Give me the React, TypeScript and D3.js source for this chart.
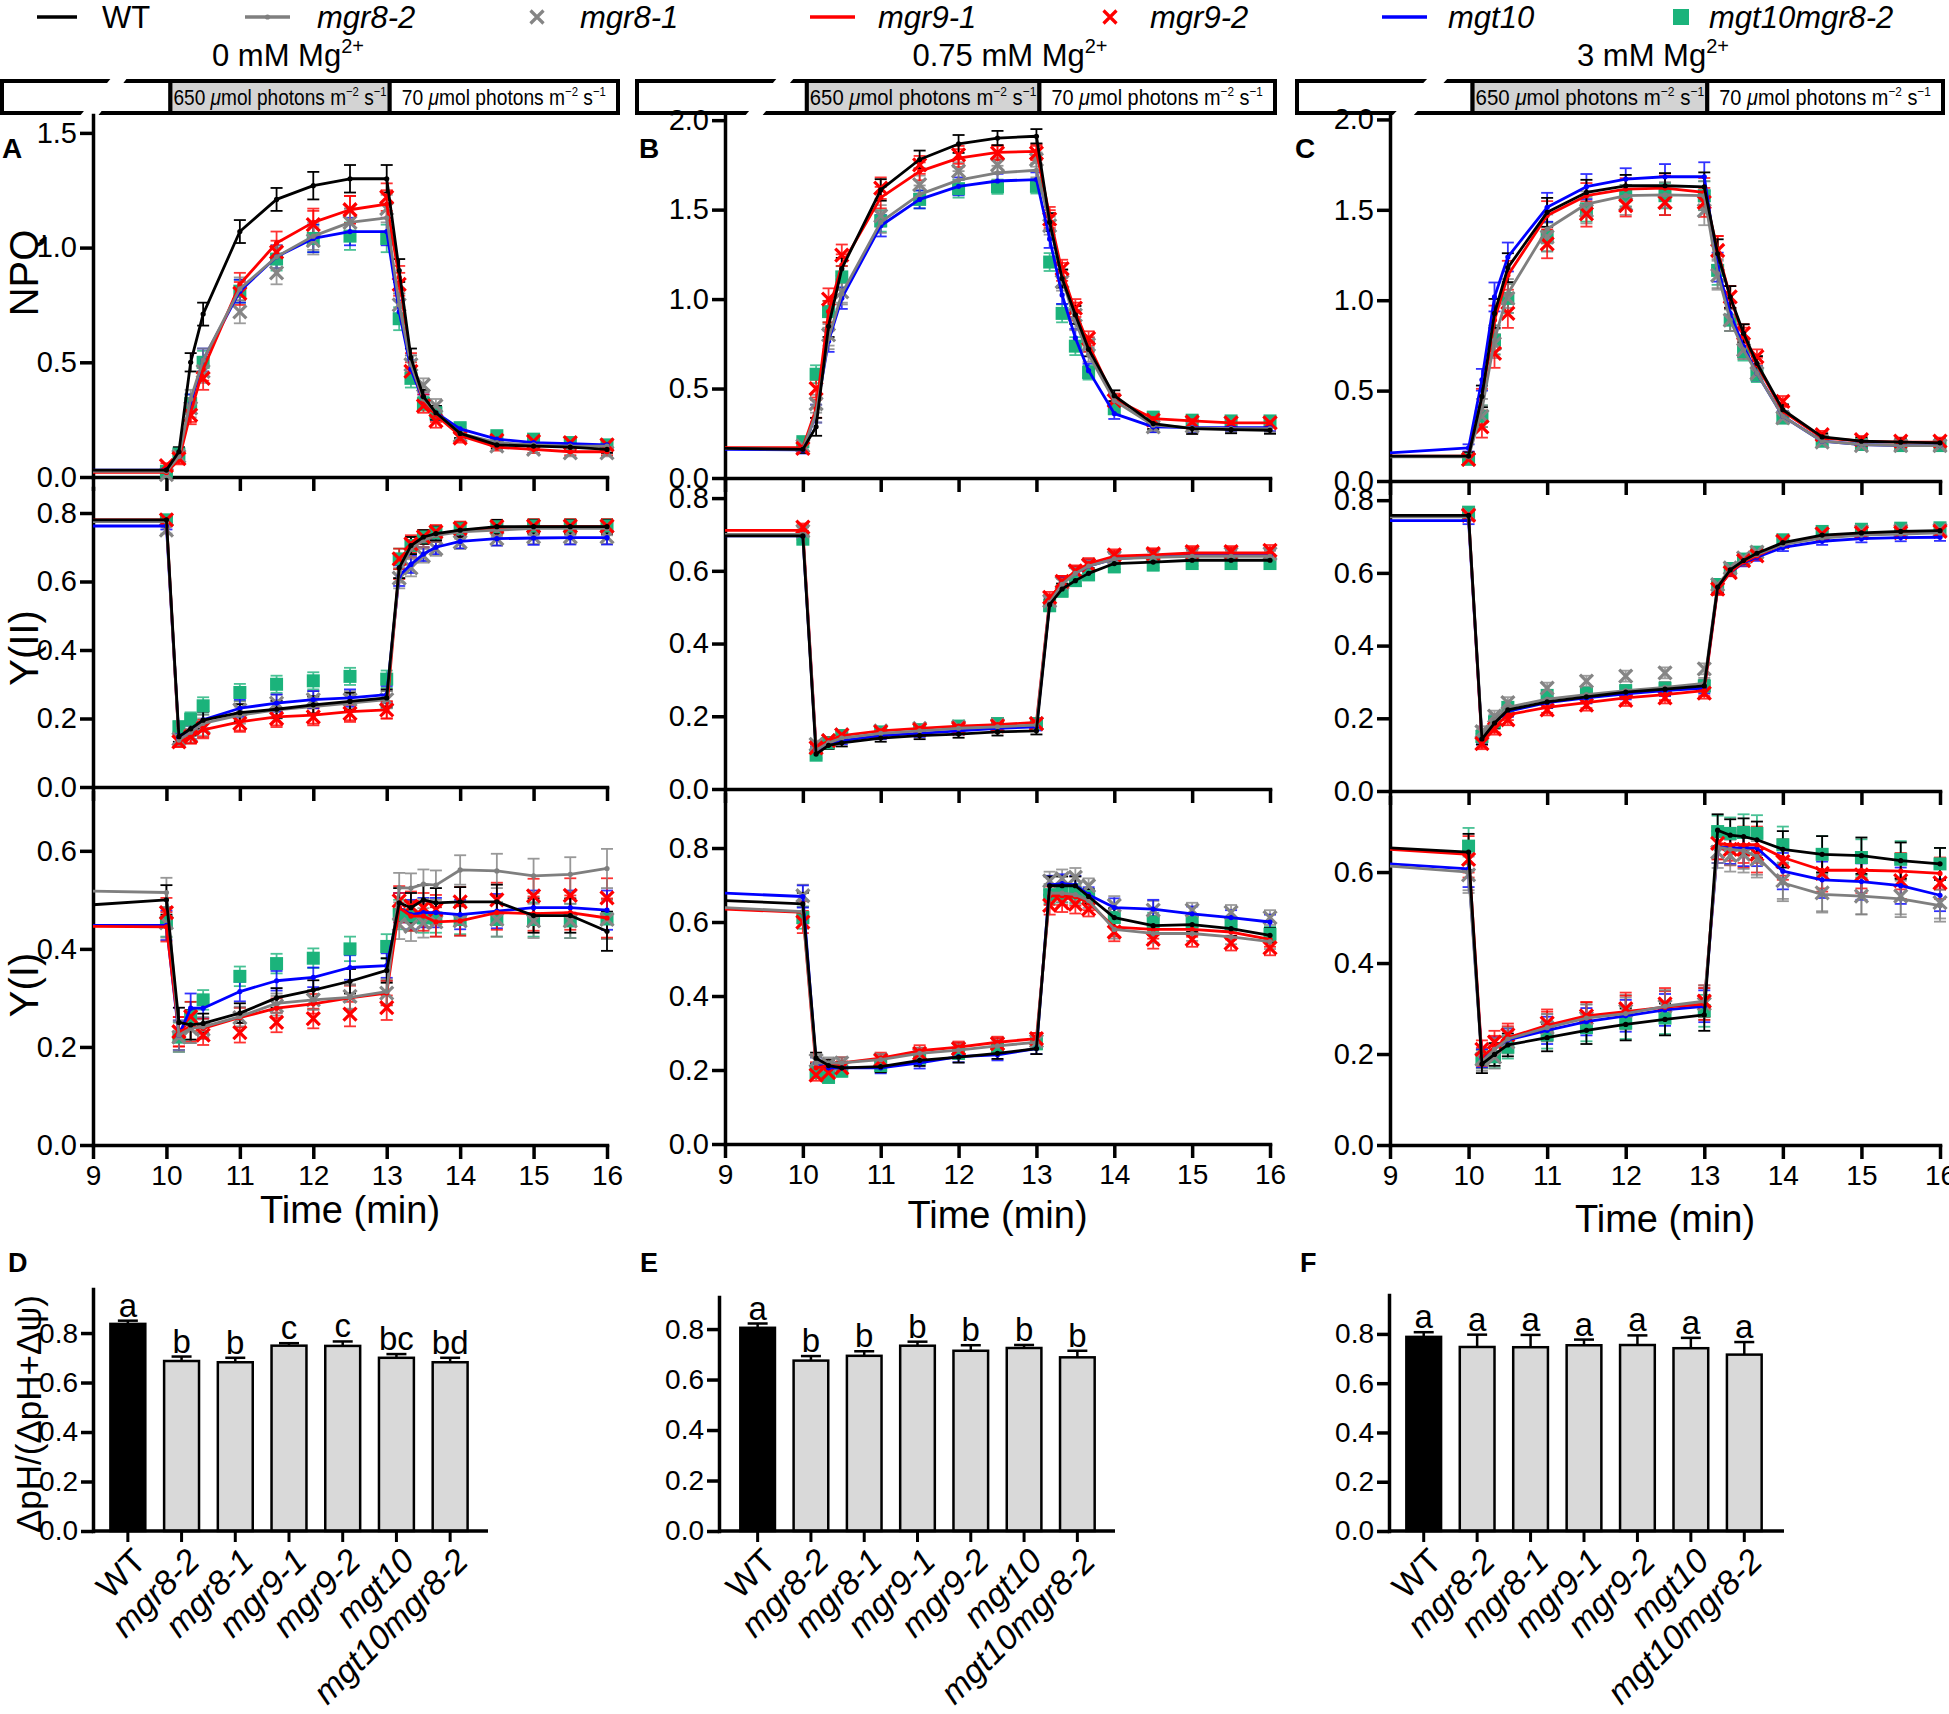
import React, { useEffect, useRef } from 'react';
import * as d3 from 'd3';

// sampling times (min); 9 is only the start of the dark baseline line
const TIMES = [9, 10, 10.17, 10.33, 10.5, 11, 11.5, 12, 12.5, 13, 13.17, 13.33, 13.5, 13.67, 14, 14.5, 15, 15.5, 16];
const TIME_TICKS = [9, 10, 11, 12, 13, 14, 15, 16];
const GENOTYPES = ['WT', 'mgr8-2', 'mgr8-1', 'mgr9-1', 'mgr9-2', 'mgt10', 'mgt10mgr8-2'];

// NPQ, order = GENOTYPES
const NPQ_0 = [
  [0.03, 0.03, 0.11, 0.5, 0.71, 1.07, 1.21, 1.27, 1.3, 1.3, 0.9, 0.52, 0.35, 0.28, 0.19, 0.14, 0.135, 0.13, 0.12],
  [0.025, 0.025, 0.09, 0.34, 0.51, 0.82, 0.96, 1.05, 1.11, 1.13, 0.75, 0.49, 0.34, 0.28, 0.19, 0.15, 0.14, 0.135, 0.135],
  [null, 0.01, 0.09, 0.3, 0.46, 0.72, 0.89, 1.03, 1.11, 1.17, 0.75, 0.49, 0.4, 0.31, 0.18, 0.135, 0.12, 0.105, 0.105],
  [0.02, 0.02, 0.075, 0.28, 0.47, 0.84, 1.02, 1.11, 1.165, 1.19, 0.87, 0.5, 0.33, 0.27, 0.18, 0.13, 0.12, 0.11, 0.11],
  [null, 0.05, 0.08, 0.27, 0.43, 0.8, 0.98, 1.1, 1.165, 1.22, 0.84, 0.46, 0.31, 0.245, 0.17, 0.16, 0.155, 0.15, 0.14],
  [0.03, 0.03, 0.09, 0.32, 0.51, 0.81, 0.96, 1.04, 1.07, 1.07, 0.72, 0.47, 0.33, 0.28, 0.21, 0.165, 0.15, 0.145, 0.14],
  [null, 0.025, 0.1, 0.32, 0.5, 0.81, 0.95, 1.04, 1.05, 1.04, 0.69, 0.43, 0.32, 0.28, 0.215, 0.18, 0.165, 0.15, 0.14],
];
const NPQ_075 = [
  [0.166, 0.16, 0.286, 0.848, 1.17, 1.61, 1.78, 1.867, 1.9, 1.91, 1.43, 1.115, 0.912, 0.72, 0.46, 0.304, 0.276, 0.27, 0.267],
  [0.166, 0.16, 0.36, 0.78, 1.03, 1.43, 1.585, 1.665, 1.705, 1.72, 1.43, 1.115, 0.876, 0.69, 0.433, 0.295, 0.28, 0.276, 0.276],
  [null, 0.18, 0.415, 0.8, 1.04, 1.465, 1.64, 1.715, 1.75, 1.78, 1.41, 1.097, 0.91, 0.746, 0.433, 0.286, 0.29, 0.31, 0.31],
  [0.17, 0.17, 0.387, 0.93, 1.19, 1.567, 1.714, 1.788, 1.82, 1.825, 1.465, 1.152, 0.93, 0.746, 0.442, 0.332, 0.319, 0.308, 0.308],
  [null, 0.166, 0.5, 1.0, 1.245, 1.62, 1.75, 1.806, 1.816, 1.816, 1.447, 1.17, 0.95, 0.78, 0.433, 0.323, 0.313, 0.308, 0.308],
  [0.16, 0.157, 0.36, 0.765, 1.005, 1.41, 1.557, 1.63, 1.66, 1.668, 1.336, 1.023, 0.783, 0.6, 0.36, 0.286, 0.282, 0.282, 0.282],
  [null, 0.203, 0.58, 0.93, 1.124, 1.437, 1.557, 1.617, 1.628, 1.63, 1.207, 0.92, 0.737, 0.59, 0.387, 0.34, 0.323, 0.319, 0.319],
];
const NPQ_3 = [
  [0.138, 0.138, 0.468, 0.927, 1.18, 1.486, 1.596, 1.633, 1.633, 1.627, 1.257, 1.018, 0.817, 0.651, 0.394, 0.244, 0.22, 0.215, 0.211],
  [0.134, 0.134, 0.394, 0.78, 1.037, 1.394, 1.532, 1.578, 1.583, 1.578, 1.147, 0.89, 0.725, 0.596, 0.358, 0.22, 0.202, 0.196, 0.196],
  [null, 0.12, 0.358, 0.76, 1.01, 1.35, 1.495, 1.532, 1.541, 1.495, 1.138, 0.89, 0.725, 0.596, 0.349, 0.215, 0.196, 0.196, 0.196],
  [0.138, 0.138, 0.45, 0.89, 1.138, 1.468, 1.578, 1.615, 1.62, 1.596, 1.275, 1.018, 0.798, 0.642, 0.385, 0.239, 0.22, 0.215, 0.215],
  [null, 0.12, 0.3, 0.706, 0.927, 1.312, 1.477, 1.523, 1.541, 1.541, 1.275, 1.018, 0.817, 0.688, 0.44, 0.257, 0.229, 0.22, 0.22],
  [0.156, 0.183, 0.56, 1.018, 1.239, 1.514, 1.628, 1.67, 1.683, 1.683, 1.183, 0.927, 0.743, 0.596, 0.358, 0.22, 0.202, 0.196, 0.196],
  [null, 0.12, 0.358, 0.78, 1.01, 1.35, 1.505, 1.578, 1.578, 1.578, 1.165, 0.89, 0.716, 0.587, 0.349, 0.22, 0.202, 0.196, 0.196],
];

// Y(II)
const YII_0 = [
  [0.78, 0.78, 0.147, 0.17, 0.195, 0.217, 0.227, 0.24, 0.25, 0.26, 0.64, 0.705, 0.73, 0.74, 0.75, 0.76, 0.76, 0.76, 0.76],
  [0.775, 0.775, 0.137, 0.16, 0.186, 0.21, 0.225, 0.235, 0.245, 0.255, 0.627, 0.695, 0.72, 0.735, 0.745, 0.75, 0.755, 0.755, 0.755],
  [null, 0.75, 0.14, 0.15, 0.175, 0.225, 0.245, 0.255, 0.255, 0.255, 0.61, 0.64, 0.675, 0.695, 0.715, 0.725, 0.73, 0.73, 0.73],
  [0.78, 0.78, 0.132, 0.147, 0.167, 0.19, 0.205, 0.21, 0.22, 0.225, 0.637, 0.695, 0.72, 0.735, 0.75, 0.756, 0.76, 0.76, 0.76],
  [null, 0.78, 0.132, 0.147, 0.171, 0.186, 0.2, 0.205, 0.215, 0.225, 0.666, 0.71, 0.73, 0.745, 0.755, 0.76, 0.762, 0.762, 0.762],
  [0.762, 0.762, 0.142, 0.16, 0.196, 0.23, 0.245, 0.255, 0.26, 0.27, 0.617, 0.65, 0.68, 0.7, 0.717, 0.725, 0.727, 0.728, 0.728],
  [null, 0.78, 0.176, 0.198, 0.237, 0.276, 0.3, 0.31, 0.323, 0.315, 0.666, 0.705, 0.73, 0.742, 0.754, 0.76, 0.762, 0.762, 0.762],
];
const YII_075 = [
  [0.696, 0.696, 0.096, 0.12, 0.127, 0.14, 0.147, 0.151, 0.157, 0.16, 0.507, 0.55, 0.573, 0.593, 0.62, 0.624, 0.629, 0.629, 0.629],
  [0.7, 0.7, 0.107, 0.127, 0.14, 0.153, 0.16, 0.167, 0.171, 0.176, 0.513, 0.563, 0.593, 0.613, 0.633, 0.637, 0.64, 0.64, 0.64],
  [null, 0.709, 0.123, 0.133, 0.149, 0.16, 0.167, 0.171, 0.176, 0.18, 0.517, 0.567, 0.597, 0.616, 0.637, 0.643, 0.647, 0.647, 0.647],
  [0.711, 0.711, 0.113, 0.133, 0.147, 0.16, 0.167, 0.173, 0.177, 0.183, 0.52, 0.571, 0.597, 0.62, 0.64, 0.644, 0.649, 0.649, 0.649],
  [null, 0.72, 0.113, 0.133, 0.149, 0.157, 0.163, 0.167, 0.173, 0.18, 0.527, 0.571, 0.6, 0.616, 0.644, 0.647, 0.653, 0.653, 0.656],
  [0.696, 0.696, 0.107, 0.123, 0.133, 0.147, 0.153, 0.16, 0.167, 0.171, 0.513, 0.567, 0.593, 0.613, 0.633, 0.64, 0.643, 0.643, 0.643],
  [null, 0.687, 0.093, 0.127, 0.147, 0.157, 0.163, 0.173, 0.18, 0.18, 0.504, 0.544, 0.573, 0.589, 0.611, 0.616, 0.62, 0.62, 0.62],
];
const YII_3 = [
  [0.758, 0.758, 0.143, 0.187, 0.223, 0.245, 0.259, 0.272, 0.28, 0.289, 0.561, 0.608, 0.634, 0.654, 0.683, 0.704, 0.71, 0.714, 0.716],
  [0.754, 0.754, 0.153, 0.196, 0.23, 0.253, 0.265, 0.276, 0.285, 0.296, 0.568, 0.608, 0.634, 0.651, 0.678, 0.696, 0.704, 0.707, 0.71],
  [null, 0.76, 0.163, 0.206, 0.243, 0.283, 0.302, 0.316, 0.325, 0.336, 0.568, 0.614, 0.641, 0.657, 0.687, 0.707, 0.714, 0.716, 0.718],
  [0.758, 0.758, 0.134, 0.176, 0.21, 0.23, 0.243, 0.256, 0.265, 0.276, 0.555, 0.601, 0.63, 0.647, 0.68, 0.7, 0.707, 0.71, 0.712],
  [null, 0.758, 0.13, 0.17, 0.196, 0.223, 0.236, 0.249, 0.256, 0.269, 0.555, 0.601, 0.634, 0.647, 0.687, 0.707, 0.71, 0.711, 0.714],
  [0.744, 0.744, 0.143, 0.19, 0.219, 0.243, 0.256, 0.267, 0.276, 0.283, 0.559, 0.601, 0.628, 0.643, 0.67, 0.687, 0.694, 0.697, 0.698],
  [null, 0.767, 0.15, 0.19, 0.23, 0.263, 0.269, 0.276, 0.283, 0.289, 0.568, 0.612, 0.638, 0.657, 0.691, 0.714, 0.72, 0.723, 0.724],
];

// Y(I)
const YI_0 = [
  [0.49, 0.5, 0.25, 0.245, 0.248, 0.269, 0.3, 0.316, 0.334, 0.356, 0.494, 0.484, 0.5, 0.494, 0.496, 0.496, 0.468, 0.468, 0.436],
  [0.518, 0.515, 0.224, 0.238, 0.241, 0.262, 0.289, 0.296, 0.301, 0.313, 0.525, 0.524, 0.532, 0.53, 0.561, 0.559, 0.549, 0.552, 0.564],
  [null, 0.453, 0.22, 0.238, 0.236, 0.26, 0.284, 0.296, 0.303, 0.31, 0.45, 0.446, 0.453, 0.455, 0.457, 0.46, 0.457, 0.457, 0.46],
  [0.446, 0.445, 0.231, 0.241, 0.238, 0.26, 0.279, 0.288, 0.3, 0.31, 0.484, 0.467, 0.467, 0.455, 0.457, 0.474, 0.472, 0.474, 0.463],
  [null, 0.474, 0.231, 0.262, 0.224, 0.229, 0.25, 0.258, 0.267, 0.28, 0.498, 0.487, 0.484, 0.48, 0.496, 0.5, 0.508, 0.509, 0.504],
  [0.448, 0.448, 0.224, 0.279, 0.279, 0.313, 0.335, 0.342, 0.362, 0.366, 0.484, 0.47, 0.474, 0.474, 0.47, 0.477, 0.484, 0.484, 0.479],
  [null, 0.455, 0.22, 0.262, 0.296, 0.344, 0.37, 0.381, 0.4, 0.405, 0.47, 0.467, 0.463, 0.463, 0.46, 0.46, 0.46, 0.457, 0.461],
];
const YI_075 = [
  [0.658, 0.649, 0.232, 0.212, 0.206, 0.209, 0.226, 0.235, 0.245, 0.258, 0.698, 0.698, 0.698, 0.669, 0.612, 0.59, 0.593, 0.582, 0.564],
  [0.639, 0.628, 0.219, 0.219, 0.219, 0.228, 0.245, 0.254, 0.265, 0.275, 0.678, 0.678, 0.674, 0.658, 0.58, 0.569, 0.569, 0.56, 0.547],
  [null, 0.671, 0.226, 0.215, 0.219, 0.228, 0.241, 0.258, 0.271, 0.278, 0.711, 0.717, 0.721, 0.698, 0.645, 0.632, 0.632, 0.626, 0.612],
  [0.635, 0.626, 0.206, 0.212, 0.219, 0.232, 0.252, 0.262, 0.275, 0.285, 0.671, 0.671, 0.669, 0.652, 0.586, 0.58, 0.58, 0.573, 0.553],
  [null, 0.6, 0.186, 0.193, 0.206, 0.226, 0.245, 0.258, 0.271, 0.285, 0.645, 0.652, 0.648, 0.635, 0.573, 0.553, 0.553, 0.543, 0.53],
  [0.678, 0.669, 0.219, 0.206, 0.206, 0.206, 0.219, 0.236, 0.241, 0.258, 0.7, 0.704, 0.7, 0.674, 0.639, 0.635, 0.622, 0.612, 0.6],
  [null, 0.612, 0.193, 0.18, 0.197, 0.212, 0.232, 0.245, 0.258, 0.271, 0.674, 0.678, 0.678, 0.669, 0.612, 0.6, 0.6, 0.593, 0.567],
];
const YI_3 = [
  [0.653, 0.644, 0.178, 0.199, 0.22, 0.236, 0.252, 0.265, 0.276, 0.286, 0.692, 0.681, 0.678, 0.671, 0.65, 0.639, 0.636, 0.625, 0.618],
  [0.613, 0.6, 0.183, 0.21, 0.233, 0.258, 0.279, 0.289, 0.305, 0.316, 0.655, 0.65, 0.647, 0.634, 0.576, 0.551, 0.547, 0.541, 0.526],
  [null, 0.594, 0.188, 0.193, 0.226, 0.258, 0.279, 0.295, 0.305, 0.31, 0.644, 0.636, 0.639, 0.628, 0.581, 0.554, 0.547, 0.547, 0.533],
  [0.65, 0.639, 0.194, 0.215, 0.236, 0.263, 0.284, 0.293, 0.303, 0.31, 0.663, 0.66, 0.66, 0.66, 0.632, 0.604, 0.604, 0.602, 0.597],
  [null, 0.628, 0.21, 0.226, 0.242, 0.268, 0.284, 0.3, 0.31, 0.316, 0.663, 0.65, 0.65, 0.639, 0.623, 0.597, 0.594, 0.581, 0.576],
  [0.618, 0.607, 0.191, 0.212, 0.231, 0.252, 0.271, 0.284, 0.297, 0.305, 0.655, 0.653, 0.653, 0.653, 0.602, 0.583, 0.579, 0.57, 0.549],
  [null, 0.657, 0.189, 0.194, 0.215, 0.242, 0.258, 0.268, 0.279, 0.295, 0.689, 0.685, 0.687, 0.685, 0.66, 0.639, 0.632, 0.628, 0.618],
];

// standard errors per time point (estimated, shared by the genotypes of a panel)
const NPQ_0_ERR = [0, 0.01, 0.02, 0.04, 0.05, 0.05, 0.05, 0.06, 0.06, 0.06, 0.05, 0.04, 0.03, 0.03, 0.02, 0.015, 0.015, 0.015, 0.015];
const NPQ_075_ERR = [0, 0.02, 0.05, 0.06, 0.06, 0.06, 0.05, 0.05, 0.04, 0.04, 0.05, 0.05, 0.05, 0.04, 0.03, 0.03, 0.03, 0.02, 0.02];
const NPQ_3_ERR = [0, 0.02, 0.06, 0.08, 0.08, 0.08, 0.07, 0.06, 0.07, 0.08, 0.08, 0.06, 0.05, 0.04, 0.03, 0.02, 0.02, 0.02, 0.02];
const YII_0_ERR = [0, 0.01, 0.015, 0.02, 0.025, 0.025, 0.025, 0.025, 0.025, 0.025, 0.03, 0.025, 0.02, 0.02, 0.02, 0.02, 0.02, 0.02, 0.02];
const YII_075_ERR = [0, 0.01, 0.01, 0.01, 0.01, 0.01, 0.01, 0.01, 0.01, 0.01, 0.015, 0.015, 0.015, 0.015, 0.015, 0.015, 0.015, 0.015, 0.015];
const YII_3_ERR = [0, 0.01, 0.015, 0.015, 0.015, 0.015, 0.015, 0.015, 0.015, 0.015, 0.015, 0.01, 0.01, 0.01, 0.01, 0.01, 0.01, 0.01, 0.01];
const YI_0_ERR = [0, 0.03, 0.03, 0.03, 0.02, 0.02, 0.02, 0.02, 0.025, 0.025, 0.03, 0.03, 0.03, 0.03, 0.03, 0.035, 0.035, 0.035, 0.04];
const YI_075_ERR = [0, 0.03, 0.015, 0.015, 0.015, 0.015, 0.015, 0.015, 0.015, 0.015, 0.025, 0.025, 0.025, 0.02, 0.025, 0.025, 0.02, 0.02, 0.02];
const YI_3_ERR = [0, 0.04, 0.02, 0.025, 0.025, 0.03, 0.03, 0.035, 0.035, 0.035, 0.035, 0.035, 0.04, 0.04, 0.04, 0.04, 0.04, 0.04, 0.035];

// dpH / (dpH + dpsi)
const RATIO_0 = [0.837, 0.687, 0.682, 0.749, 0.748, 0.7, 0.682];
const RATIO_0_ERR = [0.013, 0.018, 0.018, 0.01, 0.018, 0.015, 0.018];
const RATIO_0_LETTERS = ['a', 'b', 'b', 'c', 'c', 'bc', 'bd'];
const RATIO_075 = [0.805, 0.675, 0.694, 0.734, 0.714, 0.725, 0.688];
const RATIO_075_ERR = [0.017, 0.018, 0.018, 0.016, 0.022, 0.012, 0.026];
const RATIO_075_LETTERS = ['a', 'b', 'b', 'b', 'b', 'b', 'b'];
const RATIO_3 = [0.788, 0.747, 0.746, 0.754, 0.755, 0.742, 0.716];
const RATIO_3_ERR = [0.019, 0.05, 0.05, 0.023, 0.039, 0.042, 0.051];
const RATIO_3_LETTERS = ['a', 'a', 'a', 'a', 'a', 'a', 'a'];

const NPQ_TICKS_0 = [0, 0.5, 1.0, 1.5];
const NPQ_TICKS = [0, 0.5, 1.0, 1.5, 2.0];
const YII_TICKS = [0, 0.2, 0.4, 0.6, 0.8];
const YI_TICKS_0 = [0, 0.2, 0.4, 0.6];
const YI_TICKS_075 = [0, 0.2, 0.4, 0.6, 0.8];
const YI_TICKS_3 = [0, 0.2, 0.4, 0.6];
const RATIO_TICKS = [0, 0.2, 0.4, 0.6, 0.8];

const FONT = "'Liberation Sans', Arial, Helvetica, sans-serif";
const COLORS = ['#000000', '#7f7f7f', '#858585', '#ff0000', '#ff0000', '#0000ff', '#1bb37b'];
const KINDS = ['line', 'line', 'cross', 'line', 'cross', 'line', 'square'];
const DRAW_ORDER = [6, 2, 4, 5, 3, 1, 0];

type Row = { b: number; t: number; max: number; ticks: number[]; data: (number | null)[][]; err: number[] };

const TIME_PANELS = [
  {
    x0: 93, x1: 607, box: [2, 618], gapB: [79, 97], gapT: [112, 128],
    title: '0 mM Mg', titleX: 288, letter: 'A', letterX: 2, timeY: 1223,
    rows: [
      { b: 477, t: 115, max: 1.578, ticks: NPQ_TICKS_0, data: NPQ_0, err: NPQ_0_ERR },
      { b: 787, t: 488, max: 0.873, ticks: YII_TICKS, data: YII_0, err: YII_0_ERR },
      { b: 1145, t: 792, max: 0.72, ticks: YI_TICKS_0, data: YI_0, err: YI_0_ERR },
    ] as Row[],
  },
  {
    x0: 725, x1: 1270, box: [637, 1275], gapB: [744, 761], gapT: [778, 795],
    title: '0.75 mM Mg', titleX: 1010, letter: 'B', letterX: 639, timeY: 1228,
    rows: [
      { b: 478, t: 113, max: 2.04, ticks: NPQ_TICKS, data: NPQ_075, err: NPQ_075_ERR },
      { b: 789, t: 481, max: 0.847, ticks: YII_TICKS, data: YII_075, err: YII_075_ERR },
      { b: 1144, t: 794, max: 0.946, ticks: YI_TICKS_075, data: YI_075, err: YI_075_ERR },
    ] as Row[],
  },
  {
    x0: 1390, x1: 1940, box: [1297, 1943], gapB: [1391, 1412], gapT: [1429, 1449],
    title: '3 mM Mg', titleX: 1653, letter: 'C', letterX: 1295, timeY: 1232,
    rows: [
      { b: 481, t: 114, max: 2.03, ticks: NPQ_TICKS, data: NPQ_3, err: NPQ_3_ERR },
      { b: 791, t: 482, max: 0.85, ticks: YII_TICKS, data: YII_3, err: YII_3_ERR },
      { b: 1145, t: 797, max: 0.765, ticks: YI_TICKS_3, data: YI_3, err: YI_3_ERR },
    ] as Row[],
  },
];

const BAR_PANELS = [
  { letter: 'D', letterX: 8, axisX: [93, 488], band: [101, 477], top: 1289, max: 0.978, values: RATIO_0, err: RATIO_0_ERR, letters: RATIO_0_LETTERS },
  { letter: 'E', letterX: 640, axisX: [719, 1115], band: [731, 1104], top: 1297, max: 0.927, values: RATIO_075, err: RATIO_075_ERR, letters: RATIO_075_LETTERS },
  { letter: 'F', letterX: 1300, axisX: [1389, 1784], band: [1397, 1771], top: 1295, max: 0.958, values: RATIO_3, err: RATIO_3_ERR, letters: RATIO_3_LETTERS },
];
const BAR_BOTTOM = 1531;

const ROW_LABELS = [
  { text: 'NPQ', y: 273 },
  { text: 'Y(II)', y: 648 },
  { text: 'Y(I)', y: 985 },
];

const LEGEND = [
  { lineX: [37, 77], textX: 102 },
  { lineX: [245, 290], textX: 317 },
  { markX: 537, textX: 580 },
  { lineX: [810, 855], textX: 878 },
  { markX: 1110, textX: 1150 },
  { lineX: [1382, 1427], textX: 1448 },
  { markX: 1681, textX: 1709 },
];

type Sel = d3.Selection<SVGGElement, unknown, null, undefined>;

function styleAxis(a: Sel, size: number) {
  a.attr('font-family', FONT).attr('font-size', size);
  a.select('.domain').attr('stroke-width', 3.5).attr('stroke-linecap', 'square');
  a.selectAll('.tick line').attr('stroke-width', 3.5);
  a.selectAll('.tick text').attr('fill', '#000');
}

function marker(g: Sel, kind: string, cx: number, cy: number, color: string, s: number) {
  if (kind === 'cross') {
    g.append('path')
      .attr('d', `M${cx - s},${cy - s}L${cx + s},${cy + s}M${cx - s},${cy + s}L${cx + s},${cy - s}`)
      .attr('stroke', color).attr('stroke-width', 3.2).attr('fill', 'none');
  } else if (kind === 'square') {
    g.append('rect').attr('x', cx - s).attr('y', cy - s).attr('width', 2 * s).attr('height', 2 * s).attr('fill', color);
  } else {
    g.append('circle').attr('cx', cx).attr('cy', cy).attr('r', 2.6).attr('fill', color);
  }
}

function drawRow(g: Sel, x: d3.ScaleLinear<number, number>, row: Row, showLabels: boolean) {
  const y = d3.scaleLinear().domain([0, row.max]).range([row.b, row.t]);

  const xa = g.append('g').attr('transform', `translate(0,${row.b})`)
    .call(d3.axisBottom(x).tickValues(TIME_TICKS).tickSize(14).tickSizeOuter(0).tickPadding(6)
      .tickFormat((d) => (showLabels ? String(d) : '')));
  styleAxis(xa, 28);

  const ya = g.append('g').attr('transform', `translate(${x.range()[0]},0)`)
    .call(d3.axisLeft(y).tickValues(row.ticks).tickSize(13).tickSizeOuter(0).tickPadding(3)
      .tickFormat(d3.format('.1f')));
  styleAxis(ya, 29);

  const line = d3.line<number | null>()
    .defined((v) => v != null)
    .x((_, i) => x(TIMES[i]))
    .y((v) => y(v as number));

  // error bars
  DRAW_ORDER.forEach((s) => {
    const eg = g.append('g').attr('stroke', COLORS[s]).attr('stroke-width', 1.8).attr('opacity', s === 0 ? 1 : 0.8);
    row.data[s].forEach((v, i) => {
      if (i === 0 || v == null) return;
      const cx = x(TIMES[i]);
      const e = row.err[i];
      const y0 = y(v - e);
      const y1 = y(v + e);
      eg.append('line').attr('x1', cx).attr('x2', cx).attr('y1', y0).attr('y2', y1);
      eg.append('line').attr('x1', cx - 6).attr('x2', cx + 6).attr('y1', y0).attr('y2', y0);
      eg.append('line').attr('x1', cx - 6).attr('x2', cx + 6).attr('y1', y1).attr('y2', y1);
    });
  });

  // marker-only genotypes
  DRAW_ORDER.filter((s) => KINDS[s] !== 'line').forEach((s) => {
    const mg = g.append('g');
    row.data[s].forEach((v, i) => {
      if (i === 0 || v == null) return;
      marker(mg, KINDS[s], x(TIMES[i]), y(v), COLORS[s], 6.5);
    });
  });

  // line genotypes, WT on top
  DRAW_ORDER.filter((s) => KINDS[s] === 'line').forEach((s) => {
    g.append('path').datum(row.data[s]).attr('d', line)
      .attr('fill', 'none').attr('stroke', COLORS[s]).attr('stroke-width', 2.8).attr('stroke-linejoin', 'round');
    const mg = g.append('g');
    row.data[s].forEach((v, i) => {
      if (i === 0 || v == null) return;
      marker(mg, 'dot', x(TIMES[i]), y(v), COLORS[s], 0);
    });
  });
}

export default function App() {
  const ref = useRef<SVGSVGElement>(null);

  useEffect(() => {
    if (!ref.current) return;
    const svg = d3.select(ref.current);
    svg.selectAll('*').remove();
    const root = svg.append('g') as unknown as Sel;

    // legend
    LEGEND.forEach((l, s) => {
      const ly = 17;
      if (l.lineX) {
        root.append('line').attr('x1', l.lineX[0]).attr('x2', l.lineX[1]).attr('y1', ly).attr('y2', ly)
          .attr('stroke', COLORS[s]).attr('stroke-width', 3.5);
        if (s === 1) marker(root, 'dot', (l.lineX[0] + l.lineX[1]) / 2, ly, COLORS[s], 0);
      } else if (l.markX != null) {
        marker(root, KINDS[s], l.markX, ly, COLORS[s], KINDS[s] === 'square' ? 8 : 6.5);
      }
      root.append('text').attr('x', l.textX).attr('y', 28)
        .attr('font-family', FONT).attr('font-size', 31)
        .attr('font-style', s === 0 ? 'normal' : 'italic')
        .text(GENOTYPES[s]);
    });

    TIME_PANELS.forEach((p, pi) => {
      const x = d3.scaleLinear().domain([9, 16]).range([p.x0, p.x1]);
      const g = root.append('g') as Sel;

      // title with superscript charge
      const title = g.append('text').attr('x', p.titleX).attr('y', 66).attr('text-anchor', 'middle')
        .attr('font-family', FONT).attr('font-size', 31);
      title.append('tspan').text(p.title);
      title.append('tspan').attr('dy', -13).attr('font-size', 20).text('2+');

      // light regime bar
      const by0 = 81;
      const by1 = 113;
      const gx0 = x(10) + 4;
      const gx1 = x(13) + 3;
      g.append('rect').attr('x', p.box[0]).attr('y', by0).attr('width', gx0 - p.box[0]).attr('height', by1 - by0)
        .attr('fill', '#fff').attr('stroke', '#000').attr('stroke-width', 4);
      g.append('rect').attr('x', gx0).attr('y', by0).attr('width', gx1 - gx0).attr('height', by1 - by0)
        .attr('fill', '#d3d3d3').attr('stroke', '#000').attr('stroke-width', 4);
      g.append('rect').attr('x', gx1).attr('y', by0).attr('width', p.box[1] - gx1).attr('height', by1 - by0)
        .attr('fill', '#fff').attr('stroke', '#000').attr('stroke-width', 4);
      g.append('path')
        .attr('d', `M${p.gapB[0]},${by1 + 4}L${p.gapT[0]},${by0 - 4}L${p.gapT[1]},${by0 - 4}L${p.gapB[1]},${by1 + 4}Z`)
        .attr('fill', '#fff');

      // condensed label, squeezed horizontally to the width of its segment
      const lightText = (x0: number, x1: number, value: string) => {
        const t = g.append('text').attr('x', 0).attr('y', 0)
          .attr('font-family', FONT).attr('font-size', 22);
        t.append('tspan').text(`${value} `);
        t.append('tspan').attr('font-style', 'italic').text('\u03bc');
        t.append('tspan').text('mol photons m');
        t.append('tspan').attr('dy', -9).attr('font-size', 13).text('\u22122');
        t.append('tspan').attr('dy', 9).text(' s');
        t.append('tspan').attr('dy', -9).attr('font-size', 13).text('\u22121');
        const node = t.node() as SVGTextElement;
        const len = node.getComputedTextLength() || 1;
        const target = x1 - x0;
        const sx = Math.min(1, target / len);
        const left = x0 + (target - len * sx) / 2;
        t.attr('transform', `translate(${left},105) scale(${sx},1)`);
      };
      lightText(gx0 + 3, gx1 - 3, '650');
      lightText(gx1 + 12, p.box[1] - 12, '70');

      p.rows.forEach((row, ri) => drawRow(g, x, row, ri === 2));

      g.append('text').attr('x', p.letterX).attr('y', 158).attr('font-family', FONT)
        .attr('font-size', 28).attr('font-weight', 'bold').text(p.letter);

      g.append('text').attr('x', (p.x0 + p.x1) / 2).attr('y', p.timeY).attr('text-anchor', 'middle')
        .attr('font-family', FONT).attr('font-size', 38).text('Time (min)');

      if (pi === 0) {
        ROW_LABELS.forEach((r) => {
          g.append('text').attr('transform', `translate(38,${r.y}) rotate(-90)`).attr('text-anchor', 'middle')
            .attr('font-family', FONT).attr('font-size', 40).text(r.text);
        });
      }
    });

    BAR_PANELS.forEach((p, pi) => {
      const g = root.append('g') as Sel;
      const x = d3.scaleBand<string>().domain(GENOTYPES).range([p.band[0], p.band[1]]).paddingInner(0.35).paddingOuter(0.175);
      const y = d3.scaleLinear().domain([0, p.max]).range([BAR_BOTTOM, p.top]);

      const ya = g.append('g').attr('transform', `translate(${p.axisX[0]},0)`)
        .call(d3.axisLeft(y).tickValues(RATIO_TICKS).tickSize(12).tickSizeOuter(0).tickPadding(3).tickFormat(d3.format('.1f')));
      styleAxis(ya, 28);

      GENOTYPES.forEach((gt, i) => {
        const cx = (x(gt) as number) + x.bandwidth() / 2;
        const v = p.values[i];
        const top = y(v + p.err[i]);
        g.append('line').attr('x1', cx).attr('x2', cx).attr('y1', y(v)).attr('y2', top).attr('stroke', '#000').attr('stroke-width', 2.5);
        g.append('line').attr('x1', cx - 10).attr('x2', cx + 10).attr('y1', top).attr('y2', top).attr('stroke', '#000').attr('stroke-width', 2.5);
        g.append('rect').attr('x', x(gt) as number).attr('y', y(v)).attr('width', x.bandwidth()).attr('height', BAR_BOTTOM - y(v))
          .attr('fill', i === 0 ? '#000' : '#d9d9d9').attr('stroke', '#000').attr('stroke-width', 2.5);
        g.append('text').attr('x', cx).attr('y', top - 4).attr('text-anchor', 'middle')
          .attr('font-family', FONT).attr('font-size', 33).text(p.letters[i]);
        g.append('line').attr('x1', cx).attr('x2', cx).attr('y1', BAR_BOTTOM).attr('y2', BAR_BOTTOM + 11)
          .attr('stroke', '#000').attr('stroke-width', 3);
        g.append('text').attr('transform', `translate(${cx + 20},${BAR_BOTTOM + 32}) rotate(-45)`)
          .attr('text-anchor', 'end').attr('font-family', FONT).attr('font-size', 34)
          .attr('font-style', i === 0 ? 'normal' : 'italic').text(gt);
      });

      g.append('line').attr('x1', p.axisX[0]).attr('x2', p.axisX[1]).attr('y1', BAR_BOTTOM).attr('y2', BAR_BOTTOM)
        .attr('stroke', '#000').attr('stroke-width', 3.5);

      g.append('text').attr('x', p.letterX).attr('y', 1272).attr('font-family', FONT)
        .attr('font-size', 27).attr('font-weight', 'bold').text(p.letter);

      if (pi === 0) {
        g.append('text').attr('transform', `translate(41,1414) rotate(-90)`).attr('text-anchor', 'middle')
          .attr('font-family', FONT).attr('font-size', 35).text('\u0394pH/(\u0394pH+\u0394\u03c8)');
      }
    });
  }, []);

  return (
    <svg
      ref={ref}
      width={1949}
      height={1714}
      style={{ position: 'absolute', left: 0, top: 0, background: '#fff' }}
    />
  );
}
